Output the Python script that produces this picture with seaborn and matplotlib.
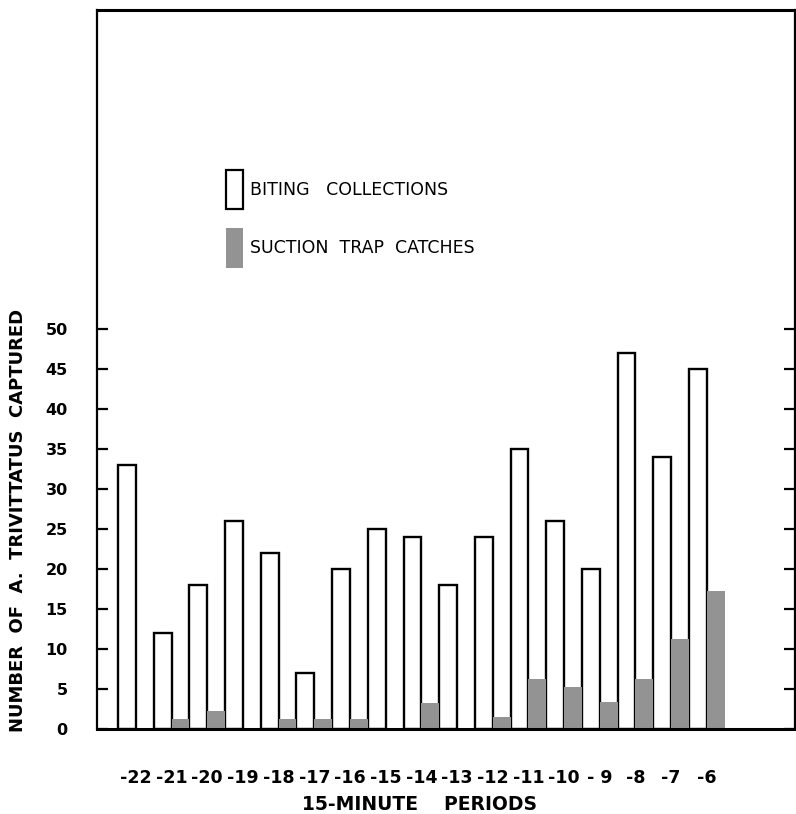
import pandas as pd
import matplotlib.pyplot as plt
from matplotlib.patches import Patch
import seaborn as sns

# ── Data ─────────────────────────────────────────────────────────────────
periods = ['-22', '-21', '-20', '-19', '-18', '-17', '-16', '-15', '-14',
           '-13', '-12', '-11', '-10', '- 9', '-8', '-7', '-6']
biting = [33, 12, 18, 26, 22, 7, 20, 25, 24, 18, 24, 35, 26, 20, 47, 34, 45]
suction = [0, 1.2, 2.3, 0, 1.2, 1.2, 1.2, 0, 3.2, 0, 1.5, 6.3, 5.2, 3.4, 6.3, 11.3, 17.3]
series = ['BITING   COLLECTIONS', 'SUCTION  TRAP  CATCHES']
y_ticks = [0, 5, 10, 15, 20, 25, 30, 35, 40, 45, 50]

df = pd.DataFrame({
    'period': periods * 2,
    'count': biting + suction,
    'series': [series[0]] * len(periods) + [series[1]] * len(periods),
})

GRAY = '#939393'
sns.set_style('white')
plt.rcParams['font.family'] = ['DejaVu Sans']
plt.rcParams.update({'text.color': 'black', 'xtick.color': 'black',
                     'ytick.color': 'black', 'axes.labelcolor': 'black'})

fig = plt.figure(figsize=(7.96, 8.14), dpi=100)
ax = fig.add_axes([0.1219, 0.1044, 0.8768, 0.8833])

sns.barplot(data=df, x='period', y='count', hue='series', hue_order=series,
            order=periods, palette=['white', GRAY], width=1.0, gap=0,
            edgecolor='black', linewidth=1.7, legend=False, ax=ax)

# suction bars are plain shaded blocks, no outline
for p in ax.containers[1]:
    p.set_edgecolor(GRAY)
    p.set_linewidth(0)

ax.set_xlim(-1.09, 18.47)
ax.set_ylim(0, 89.8)
ax.set_yticks(y_ticks)
ax.set_yticklabels([str(v) for v in y_ticks], fontsize=11.5, fontweight='bold')
ax.tick_params(axis='y', direction='in', length=8, width=1.6, pad=21,
               left=True, right=True)
ax.tick_params(axis='x', length=0, pad=29, labelsize=12.5)
for lbl in ax.get_xticklabels():
    lbl.set_fontweight('bold')
ax.set_xlabel('')
ax.set_ylabel('')

for side in ['left', 'right']:
    ax.spines[side].set_linewidth(1.6)
ax.spines['top'].set_linewidth(2.2)
ax.spines['bottom'].set_linewidth(2.2)
for s in ax.spines.values():
    s.set_color('black')

fig.text(0.023, 0.361, 'NUMBER  OF  A.  TRIVITTATUS  CAPTURED', rotation=90,
         ha='center', va='center', fontsize=13, fontweight='bold')
fig.text(0.527, 0.0115, '15-MINUTE    PERIODS', ha='center', va='center',
         fontsize=13.5, fontweight='bold')

handles = [Patch(facecolor='white', edgecolor='black', linewidth=1.6),
           Patch(facecolor=GRAY, edgecolor=GRAY, linewidth=0)]
fig.legend(handles, series, loc='upper left',
           bbox_to_anchor=(0.284, 0.791), bbox_transform=fig.transFigure,
           frameon=False, fontsize=12.5, borderpad=0, borderaxespad=0,
           handlelength=1.0, handleheight=3.1, handletextpad=0.4,
           labelspacing=1.1)

plt.savefig('out.png', dpi=100)
plt.close()
